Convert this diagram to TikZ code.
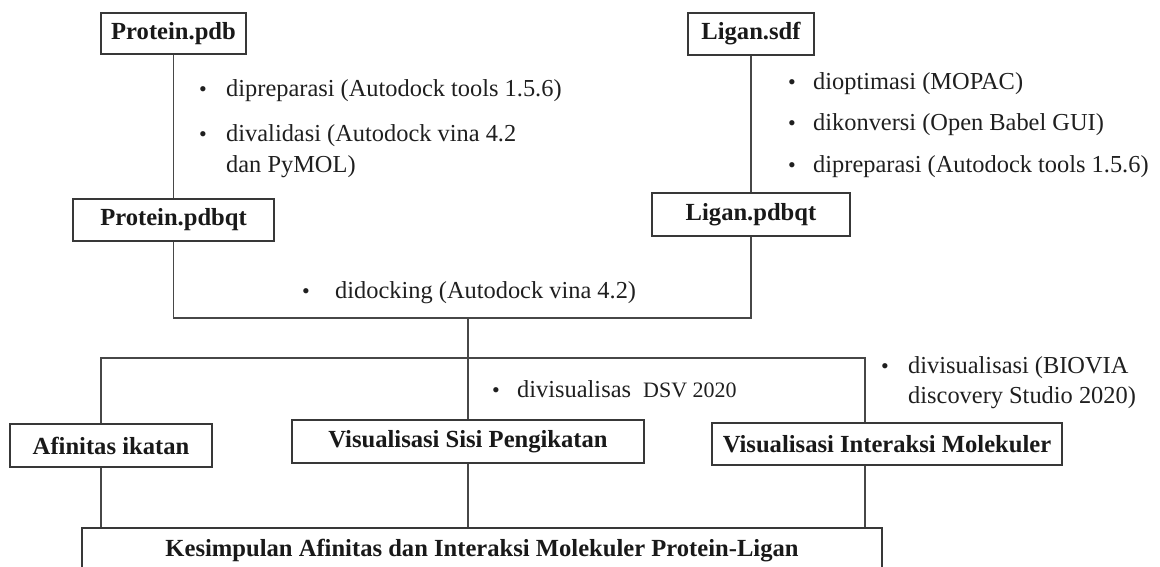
\documentclass[tikz,border=0pt]{standalone}
\usepackage{fontspec}
\setmainfont{Liberation Serif}
\begin{document}
\begin{tikzpicture}[x=1pt,y=-1pt,
  box/.style={draw=black!78, line width=1.4pt, inner sep=0pt, font=\fontsize{24.6}{28}\selectfont\bfseries, text=black!90},
  txt/.style={anchor=base west, inner sep=0pt, font=\fontsize{24.4}{28}\selectfont, text=black!88},
  bul/.style={anchor=base west, inner sep=0pt, font=\fontsize{22}{28}\selectfont, text=black!88},
  conn/.style={draw=black!72, line width=1.3pt}]
\useasboundingbox (0,0) rectangle (1160,567);
% boxes
\node[box, minimum width=145pt, minimum height=41pt] (P1) at (173.5,33.5) {Protein.pdb};
\node[box, minimum width=126pt, minimum height=42pt] (L1) at (751,34) {Ligan.sdf};
\node[box, minimum width=201pt, minimum height=42pt] (P2) at (173.5,220) {Protein.pdbqt};
\node[box, minimum width=198pt, minimum height=43pt] (L2) at (751,214.5) {Ligan.pdbqt};
\node[box, minimum width=202pt, minimum height=43pt] (A) at (111,445.5) {Afinitas ikatan};
\node[box, minimum width=352pt, minimum height=43pt] (S) at (468,441.5) {Visualisasi Sisi Pengikatan};
\node[box, minimum width=350pt, minimum height=42pt] (I) at (887,444) {Visualisasi Interaksi Molekuler};
\node[box, minimum width=800pt, minimum height=46pt] (K) at (482,551) {Kesimpulan Afinitas dan Interaksi Molekuler Protein-Ligan};
% junction points
\coordinate (j1) at (468,318);
\coordinate (aL) at (101,358);
\coordinate (aR) at (865,358);
% connectors
\draw[conn] (P1.south) -- (P2.north);
\draw[conn] (L1.south) -- (L2.north);
\draw[conn] (P2.south) |- (j1) -| (L2.south);
\draw[conn] (j1) -- (S.north);
\draw[conn] (A.north -| aL) -- (aL) -- (aR) -- (I.north -| aR);
\draw[conn] (A.south -| aL) -- (K.north -| aL);
\draw[conn] (S.south) -- (K.north -| S.south);
\draw[conn] (I.south -| aR) -- (K.north -| aR);
% left annotations
\node[bul] (b1) at (199,97) {•};
\node[txt] (t1) at (226,97) {dipreparasi (Autodock tools 1.5.6)};
\node[bul] (b2) at (199,142) {•};
\node[txt] (t2) at (226,142) {divalidasi (Autodock vina 4.2};
\node[txt] (t2b) at (226,173) {dan PyMOL)};
% right annotations
\node[bul] (b3) at (788,90) {•};
\node[txt] (t3) at (813,90) {dioptimasi (MOPAC)};
\node[bul] (b4) at (788,131) {•};
\node[txt] (t4) at (813,131) {dikonversi (Open Babel GUI)};
\node[bul] (b5) at (788,172) {•};
\node[txt] (t5) at (813,172) {dipreparasi (Autodock tools 1.5.6)};
% docking
\node[bul] (b6) at (302,298) {•};
\node[txt] (t6) at (335,298) {didocking (Autodock vina 4.2)};
% visualisation
\node[bul] (b7) at (492,397) {•};
\node[txt] (t7) at (517,397) {divisualisas};
\node[txt, font=\fontsize{22}{26}\selectfont] (t7b) at (643,397) {DSV 2020};
\node[bul] (b8) at (881,373) {•};
\node[txt] (t8) at (908,373) {divisualisasi (BIOVIA};
\node[txt] (t8b) at (908,403) {discovery Studio 2020)};
\end{tikzpicture}
\end{document}
